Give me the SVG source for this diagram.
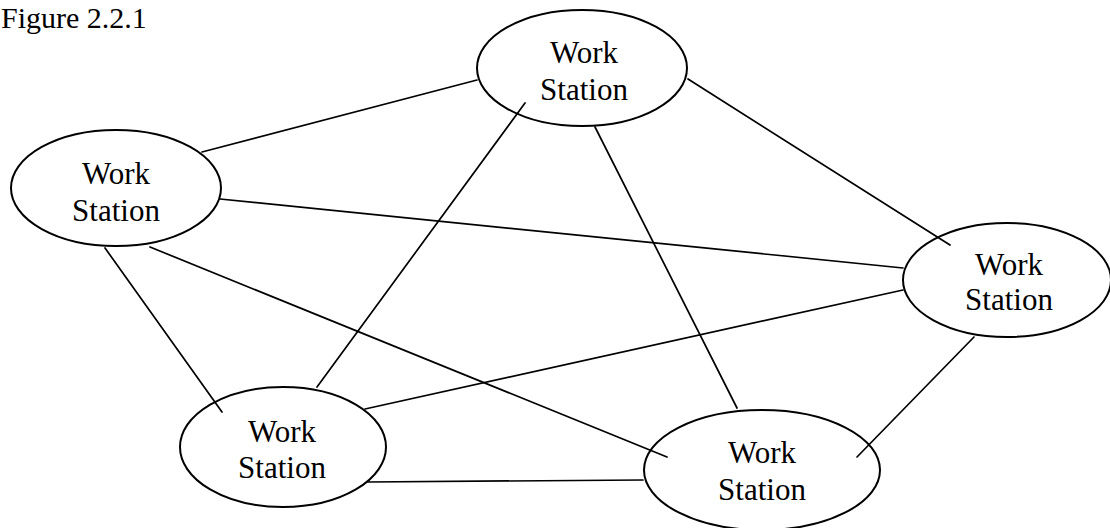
<svg xmlns="http://www.w3.org/2000/svg" width="1110" height="528" viewBox="0 0 1110 528">
<style>
.node ellipse{fill:none;stroke:#000;stroke-width:2}
.node text{font-family:"Liberation Serif","Times New Roman",serif;font-size:31px;fill:#000;text-anchor:middle}
.edges line{stroke:#000;stroke-width:1.7;stroke-linecap:round}
.title{font-family:"Liberation Serif","Times New Roman",serif;font-size:30px;fill:#000}
</style>
<rect width="1110" height="528" fill="#fff"/>
<text class="title" x="1" y="28">Figure 2.2.1</text>
<g class="edges">
<line x1="202" y1="152" x2="477" y2="80"/>
<line x1="220" y1="199" x2="903" y2="268"/>
<line x1="105" y1="248" x2="222" y2="412"/>
<line x1="150" y1="247" x2="667" y2="457"/>
<line x1="525" y1="103" x2="317" y2="387"/>
<line x1="595" y1="127" x2="737" y2="408"/>
<line x1="688" y1="79" x2="950" y2="245"/>
<line x1="903" y1="290" x2="365" y2="409"/>
<line x1="974" y1="337" x2="857" y2="457"/>
<line x1="368" y1="482" x2="643" y2="480"/>
</g>
<g id="ws-top" class="node">
<ellipse cx="582" cy="68" rx="105" ry="58"/>
<text x="584" y="63">Work</text>
<text x="584" y="100">Station</text>
</g>
<g id="ws-left" class="node">
<ellipse cx="116" cy="188" rx="105" ry="58"/>
<text x="116" y="184">Work</text>
<text x="116" y="221">Station</text>
</g>
<g id="ws-right" class="node">
<ellipse cx="1007" cy="280" rx="104" ry="57"/>
<text x="1009" y="275">Work</text>
<text x="1009" y="310">Station</text>
</g>
<g id="ws-bottom-left" class="node">
<ellipse cx="283" cy="447" rx="103" ry="60"/>
<text x="282" y="442">Work</text>
<text x="282" y="478">Station</text>
</g>
<g id="ws-bottom-right" class="node">
<ellipse cx="762" cy="470" rx="118" ry="60"/>
<text x="762" y="463">Work</text>
<text x="762" y="500">Station</text>
</g>
</svg>
